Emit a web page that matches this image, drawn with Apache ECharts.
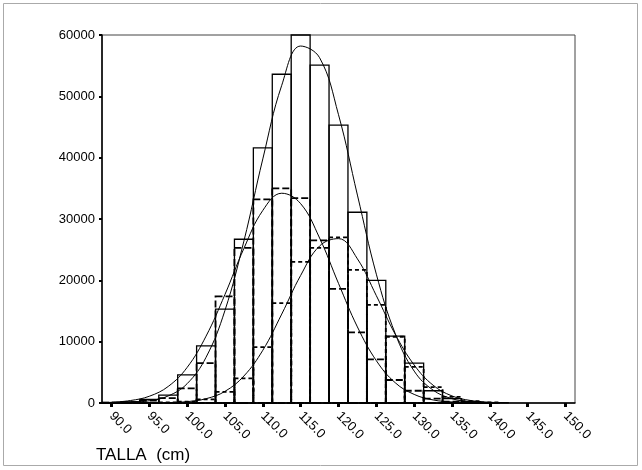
<!DOCTYPE html>
<html>
<head>
<meta charset="utf-8">
<script src="https://cdn.jsdelivr.net/npm/echarts@6.0.0/dist/echarts.min.js"></script>
<style>
  html, body { margin: 0; padding: 0; background: #fff; }
  #chart { width: 642px; height: 470px; }
</style>
</head>
<body>
<div id="chart"></div>
<script>
// bin centres (cm), bins are 2.5 cm wide
var binCenters = [90, 92.5, 95, 97.5, 100, 102.5, 105, 107.5, 110, 112.5, 115, 117.5, 120, 122.5, 125, 127.5, 130, 132.5, 135, 137.5, 140];
var binWidth = 2.5;

// histogram counts
var totalBars  = [80, 200, 600, 1300, 4600, 9300, 15300, 26700, 41600, 53600, 60000, 55100, 45300, 31100, 20000, 10900, 6500, 2000, 700, 200, 60];
var groupABars = [50, 150, 400, 800, 2400, 6500, 17400, 25300, 33200, 35000, 33400, 26500, 18600, 11500, 7100, 3750, 2000, 700, 200, 50, 0];
var groupBBars = [0, 0, 0, 100, 200, 600, 1800, 4000, 9100, 16300, 23000, 25300, 27000, 21700, 16000, 10800, 5900, 2600, 1000, 300, 100];

// normal curves, points
var curveX      = [90, 92.5, 95, 97.5, 100, 102.5, 105, 107.5, 110, 112.5, 115, 117.5, 120, 122.5, 125, 127.5, 130, 132.5, 135, 137.5, 140, 142.5];
var totalCurve  = [20, 100, 370, 1150, 3150, 7450, 15100, 26400, 39800, 51800, 58200, 56300, 47000, 33900, 21000, 11300, 5200, 2100, 700, 200, 50, 10];
var groupACurve = [120, 400, 1100, 2700, 5800, 10900, 17700, 25200, 31400, 34200, 32500, 26900, 19500, 12400, 6900, 3300, 1400, 500, 170, 50, 10, 0];
var groupBCurve = [0, 0, 10, 60, 220, 700, 1900, 4400, 8600, 14500, 20800, 25600, 26800, 23500, 17500, 11200, 6200, 2900, 1150, 400, 120, 30];

var xTicks = [90, 95, 100, 105, 110, 115, 120, 125, 130, 135, 140, 145, 150];

var chart = echarts.init(document.getElementById('chart'));

function zip(xs, ys) {
  var out = [];
  for (var i = 0; i < xs.length; i++) out.push([xs[i], ys[i]]);
  return out;
}

function barRenderer(dash, lw) {
  return function (params, api) {
    var c = api.value(0), v = api.value(1);
    var p0 = api.coord([c - binWidth / 2, v]);
    var p1 = api.coord([c + binWidth / 2, 0]);
    return {
      type: 'rect',
      shape: { x: p0[0], y: p0[1], width: p1[0] - p0[0], height: p1[1] - p0[1] },
      style: { fill: null, stroke: '#000', lineWidth: lw, lineDash: dash }
    };
  };
}

function histSeries(name, values, dash, lw) {
  return {
    name: name,
    type: 'custom',
    renderItem: barRenderer(dash, lw),
    data: zip(binCenters, values),
    encode: { x: 0, y: 1 },
    silent: true
  };
}

function curveSeries(name, values) {
  return {
    name: name,
    type: 'line',
    data: zip(curveX, values),
    smooth: 0.4,
    symbol: 'none',
    lineStyle: { color: '#000', width: 1 },
    silent: true
  };
}

var option = {
  animation: false,
  backgroundColor: '#fff',
  textStyle: { fontFamily: 'Liberation Sans' },
  grid: {
    left: 102, right: 67, top: 35, bottom: 67,
    show: true, borderColor: '#444', borderWidth: 1, backgroundColor: 'transparent'
  },
  graphic: [{
    type: 'rect',
    shape: { x: 3.5, y: 3.5, width: 634, height: 462 },
    style: { fill: null, stroke: '#aaa', lineWidth: 1 },
    silent: true
  }],
  xAxis: {
    type: 'value',
    min: 88.75,
    max: 151.25,
    name: 'TALLA  (cm)',
    nameLocation: 'start',
    nameGap: 0,
    nameTextStyle: { fontSize: 17, color: '#000', align: 'left', verticalAlign: 'top', padding: [44, 0, 0, -6] },
    axisLine: { lineStyle: { color: '#000', width: 1.5 } },
    axisTick: { customValues: xTicks, length: 4, lineStyle: { color: '#000', width: 3 } },
    axisLabel: {
      customValues: xTicks,
      rotate: -45,
      margin: 11,
      fontSize: 13,
      color: '#000',
      formatter: function (v) { return v.toFixed(1); }
    },
    splitLine: { show: false }
  },
  yAxis: {
    type: 'value',
    min: 0,
    max: 60000,
    interval: 10000,
    axisLine: { show: true, lineStyle: { color: '#000', width: 1.5 } },
    axisTick: { show: true, length: 3, lineStyle: { color: '#000', width: 2 } },
    axisLabel: { fontSize: 13, color: '#000', margin: 7, formatter: function (v) { return String(v); } },
    splitLine: { show: false }
  },
  series: [
    histSeries('Total', totalBars, null, 1.3),
    histSeries('Grupo A', groupABars, [7, 3], 1.8),
    histSeries('Grupo B', groupBBars, [4, 3], 1.8),
    curveSeries('Normal total', totalCurve),
    curveSeries('Normal A', groupACurve),
    curveSeries('Normal B', groupBCurve)
  ]
};

chart.setOption(option);
</script>
</body>
</html>
